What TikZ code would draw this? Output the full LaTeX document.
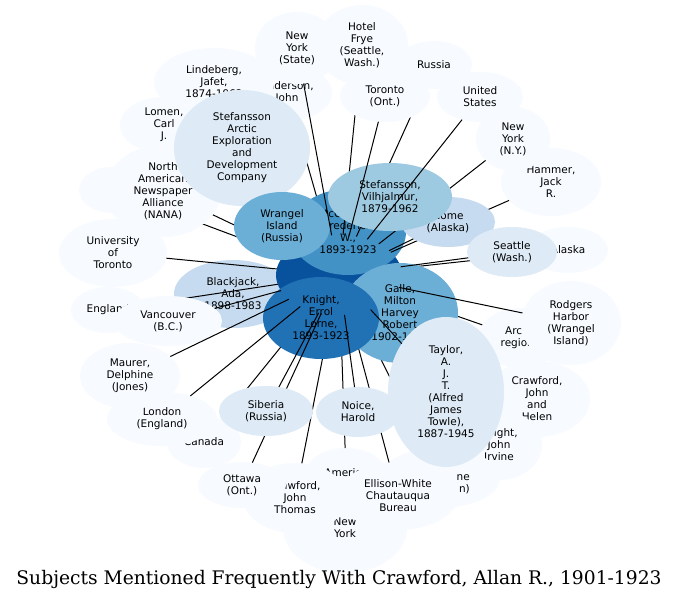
\documentclass[tikz,border=0pt]{standalone}
\usepackage{fontspec}
\setmainfont{DejaVu Sans}
\newfontfamily\titlefont{DejaVu Serif}
\usetikzlibrary{shapes.geometric}
\definecolor{b0}{HTML}{F7FBFF}
\definecolor{b1}{HTML}{DEEBF7}
\definecolor{b2}{HTML}{C6DBEF}
\definecolor{b3}{HTML}{9ECAE1}
\definecolor{b4}{HTML}{6BAED6}
\definecolor{b5}{HTML}{4292C6}
\definecolor{b6}{HTML}{2171B5}
\definecolor{b7}{HTML}{08519C}
\newcommand\nodefont{\fontsize{10.5bp}{12bp}\selectfont}
\pgfdeclarelayer{na}
\pgfdeclarelayer{ea}
\pgfdeclarelayer{nb}
\pgfdeclarelayer{eb}
\pgfdeclarelayer{nc}
\pgfdeclarelayer{nd}
\pgfdeclarelayer{ec}
\pgfdeclarelayer{ne}
\pgfsetlayers{na,ea,nb,eb,nc,nd,ec,ne,main}
\tikzset{
  bub/.style 2 args={ellipse, draw=none, inner sep=0pt, outer sep=0pt, align=center,
    font=\nodefont, text=black, minimum width=#1, minimum height=#2},
  link/.style={draw=black, line width=1bp},
  frag/.style={font=\nodefont, inner sep=0pt, align=right},
  ttl/.style={font=\titlefont\fontsize{18.7bp}{22bp}\selectfont, inner sep=0pt}
}
\begin{document}
\begin{tikzpicture}[x=1bp,y=-1bp]
\useasboundingbox (0,0) rectangle (680,601);
\begin{pgfonlayer}{na}
\fill[white] (0,0) rectangle (680,601);
\node[bub={66bp}{46bp}, fill=b0] (hidA) at (112,190) {};
\node[bub={90bp}{56bp}, fill=b0] (anderson) at (287,93) {Anderson,\\John};
\node[bub={120bp}{68bp}, fill=b0] (lindeberg) at (214,82) {Lindeberg,\\Jafet,\\1874-1962};
\node[bub={88bp}{56bp}, fill=b0] (lomen) at (164,125) {Lomen,\\Carl\\J.};
\node[bub={84bp}{72bp}, fill=b0] (nys) at (297,48) {New\\York\\(State)};
\node[bub={92bp}{80bp}, fill=b0] (frye) at (362,45) {Hotel\\Frye\\(Seattle,\\Wash.)};
\node[bub={76bp}{48bp}, fill=b0] (russia) at (434,65) {Russia};
\node[bub={86bp}{50bp}, fill=b0] (us) at (480,97) {United\\States};
\node[bub={100bp}{68bp}, fill=b0] (hammer) at (551,182) {Hammer,\\Jack\\R.};
\node[bub={74bp}{64bp}, fill=b0] (nyny) at (513,139) {New\\York\\(N.Y.)};
\node[bub={80bp}{46bp}, fill=b0] (alaska) at (568,250) {Alaska};
\node[bub={84bp}{60bp}, fill=b0] (arctic) at (520,338) {Arctic\\regions};
\node[bub={100bp}{84bp}, fill=b0] (rodgers) at (571,323) {Rodgers\\Harbor\\(Wrangel\\Island)};
\node[bub={106bp}{76bp}, fill=b0] (cjh) at (537,399) {Crawford,\\John\\and\\Helen};
\node[bub={86bp}{70bp}, fill=b0] (kji) at (499,445) {Knight,\\John\\Irvine};
\node[bub={120bp}{60bp}, fill=b0] (hidB) at (440,478) {};
\node[frag, anchor=east] (fragB) at (470,484) {ne\hspace{6bp}\\n)};
\node[bub={124bp}{90bp}, fill=b0] (newyork) at (345,528) {New\\York};
\node[bub={80bp}{50bp}, fill=b0] (america) at (346,473) {America};
\node[bub={104bp}{70bp}, fill=b0] (cjt) at (295,498) {Crawford,\\John\\Thomas};
\node[bub={88bp}{46bp}, fill=b0] (ottawa) at (242,485) {Ottawa\\(Ont.)};
\node[bub={120bp}{68bp}, fill=b0] (ellison) at (398,496) {Ellison-White\\Chautauqua\\Bureau};
\node[bub={74bp}{52bp}, fill=b0] (canada) at (204,442) {Canada};
\node[bub={110bp}{54bp}, fill=b0] (london) at (162,419) {London\\(England)};
\node[bub={100bp}{66bp}, fill=b0] (maurer) at (130,376) {Maurer,\\Delphine\\(Jones)};
\node[bub={74bp}{46bp}, fill=b0] (england) at (108,310) {England};
\node[bub={108bp}{68bp}, fill=b0] (uoft) at (113,253) {University\\of\\Toronto};
\node[bub={118bp}{68bp}, fill=b2] (blackjack) at (233,294) {Blackjack,\\Ada,\\1898-1983};
\end{pgfonlayer}
\begin{pgfonlayer}{nb}
\node[bub={126bp}{80bp}, fill=b7] (C) at (339,275) {};
\node[bub={116bp}{86bp}, fill=b5] (mcc) at (348,232) {McConnell,\\Frederick\\W.,\\1893-1923};
\end{pgfonlayer}
\begin{pgfonlayer}{nc}
\node[bub={90bp}{52bp}, fill=b0] (toronto) at (385,96) {Toronto\\(Ont.)};
\node[bub={94bp}{50bp}, fill=b2] (nome) at (448,222) {Nome\\(Alaska)};
\node[bub={124bp}{68bp}, fill=b3] (sv) at (390,197) {Stefansson,\\Vilhjalmur,\\1879-1962};
\node[bub={90bp}{50bp}, fill=b1] (seattle) at (512,252) {Seattle\\(Wash.)};
\node[bub={116bp}{92bp}, fill=b0] (nana) at (163,191) {North\\American\\Newspaper\\Alliance\\(NANA)};
\node[bub={136bp}{116bp}, fill=b1] (stefarctic) at (242,148) {Stefansson\\Arctic\\Exploration\\and\\Development\\Company};
\node[bub={96bp}{68bp}, fill=b4] (wrangel) at (282,226) {Wrangel\\Island\\(Russia)};
\node[bub={108bp}{50bp}, fill=b0] (vancouver) at (168,321) {Vancouver\\(B.C.)};
\node[bub={116bp}{100bp}, fill=b4] (galle) at (400,313) {Galle,\\Milton\\Harvey\\Robert\\1902-1923};
\end{pgfonlayer}
\begin{pgfonlayer}{nd}
\node[bub={116bp}{82bp}, fill=b6] (knight) at (321,318) {Knight,\\Errol\\Lorne,\\1893-1923};
\end{pgfonlayer}
\begin{pgfonlayer}{ne}
\node[bub={94bp}{50bp}, fill=b1] (siberia) at (266,411) {Siberia\\(Russia)};
\node[bub={84bp}{50bp}, fill=b1] (noice) at (358,412) {Noice,\\Harold};
\node[bub={116bp}{150bp}, fill=b1] (taylor) at (446,392) {Taylor,\\A.\\J.\\T.\\(Alfred\\James\\Towle),\\1887-1945};
\end{pgfonlayer}
% connectors
\begin{pgfonlayer}{ea}
\draw[link] (C) -- (anderson);
\end{pgfonlayer}
\begin{pgfonlayer}{eb}
\foreach \n in {hidA,nana,england,frye,russia,nyny,hammer,alaska,arctic,hidB,ellison,america,cjt,canada}
  \draw[link] (C) -- (\n);
\end{pgfonlayer}
\begin{pgfonlayer}{ec}
\draw[link] (C) -- (ottawa);
\end{pgfonlayer}
\foreach \n in {nys,toronto,us,nome,seattle,rodgers,taylor,uoft,vancouver,maurer,london,siberia,noice}
  \draw[link] (C) -- (\n);
\node[ttl] (title) at (339,579) {Subjects Mentioned Frequently With Crawford, Allan R., 1901-1923};
\end{tikzpicture}
\end{document}
